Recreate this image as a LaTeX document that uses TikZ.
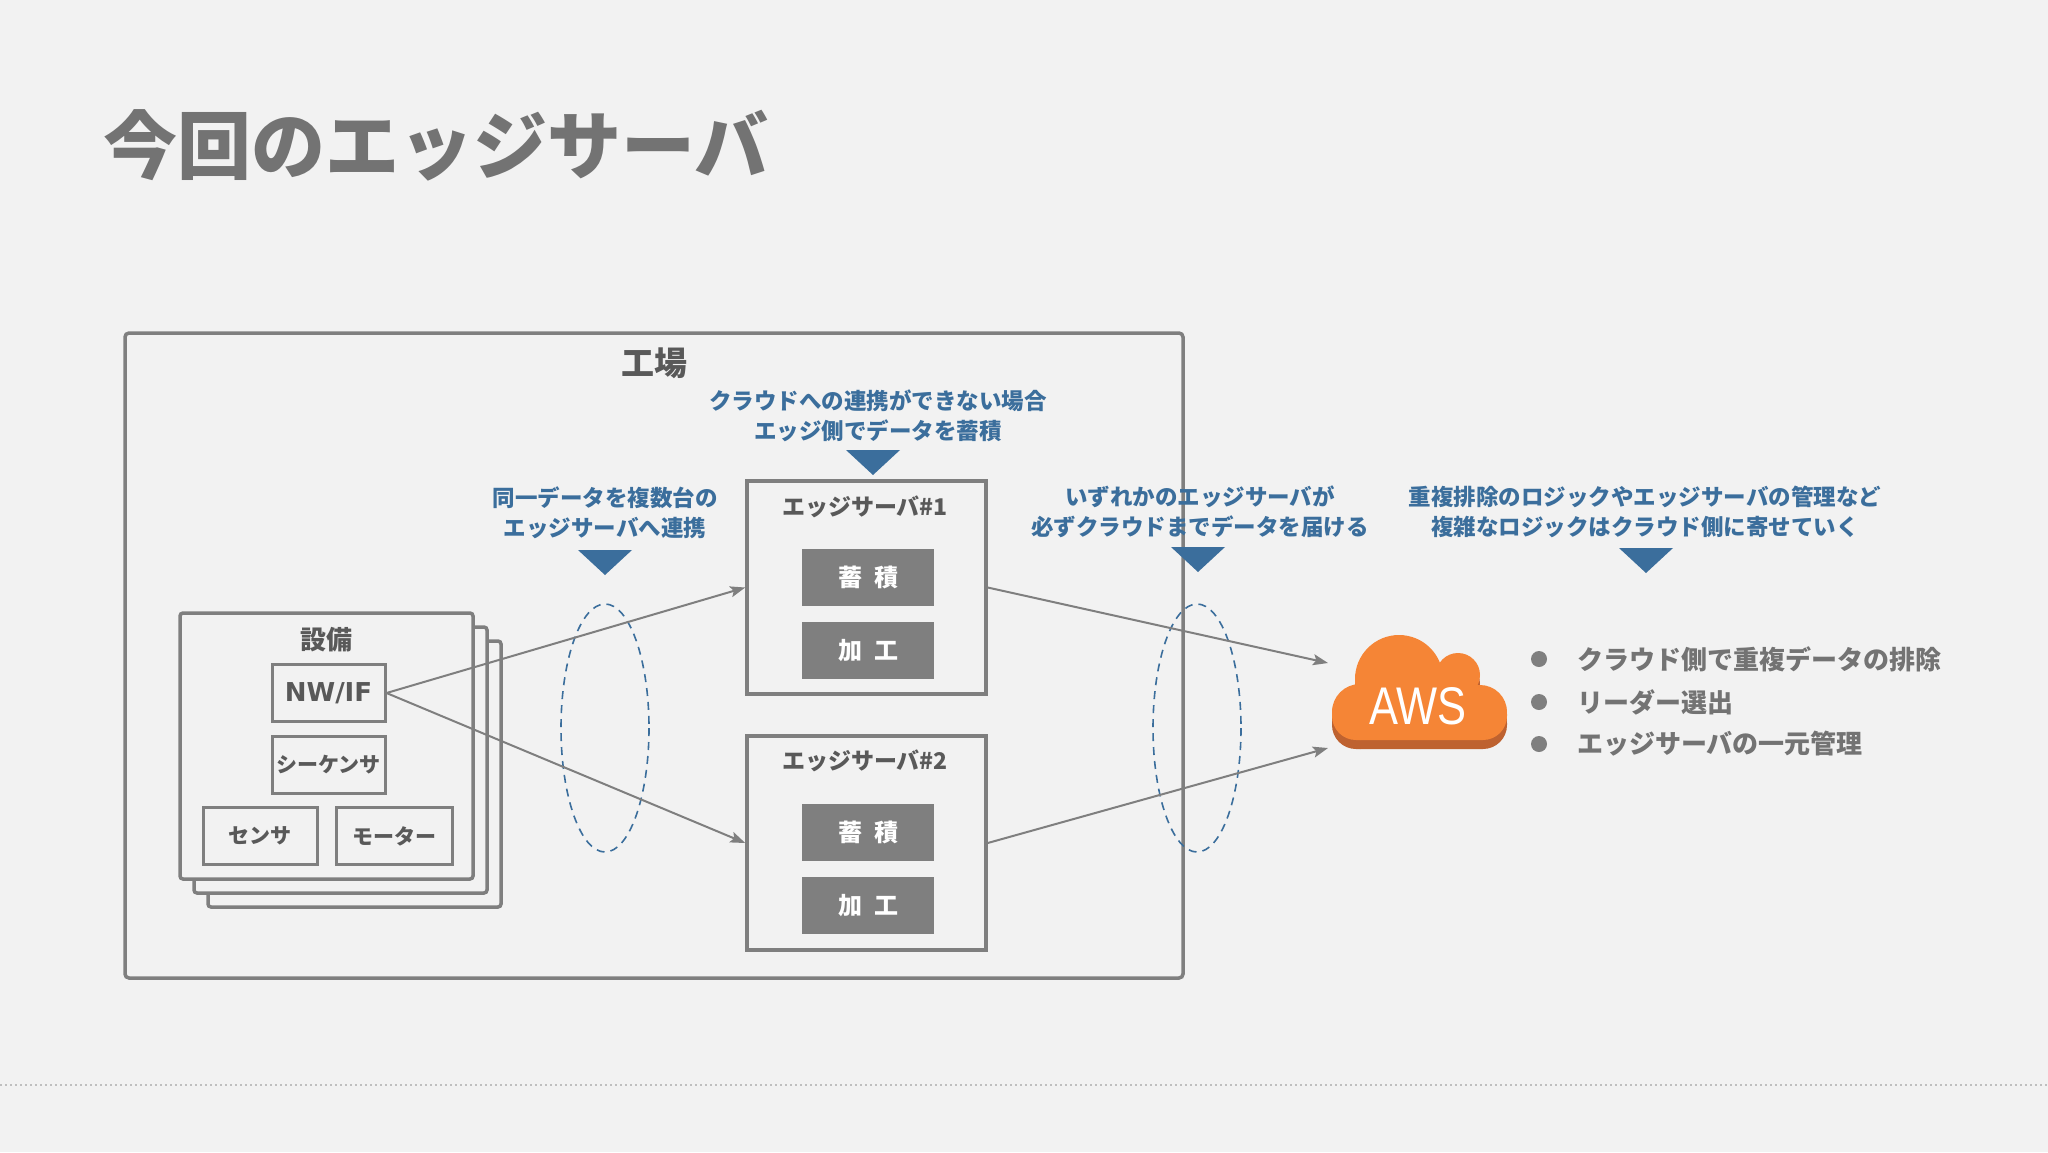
\documentclass[tikz,border=0pt]{standalone}
\usepackage{graphicx}
\usepackage{fontspec}
\setmainfont{Noto Sans CJK JP}
\newfontfamily\latinfont{DejaVu Sans}
\newfontfamily\awsfont{Liberation Sans}
\usetikzlibrary{arrows.meta}
\definecolor{bg}{HTML}{F2F2F2}
\definecolor{linegray}{HTML}{7F7F7F}
\definecolor{textgray}{HTML}{595959}
\definecolor{titlegray}{HTML}{737373}
\definecolor{dotgray}{HTML}{BFBFBF}
\definecolor{noteblue}{HTML}{3B6E9C}
\definecolor{awsorange}{HTML}{F58536}
\definecolor{awsshadow}{HTML}{BE6230}
\begin{document}
\begin{tikzpicture}[x=1pt,y=-1pt,
    frame/.style={draw=linegray,line width=3.5pt,rounded corners=4pt,inner sep=0pt},
    unit/.style={draw=linegray,line width=3.5pt,fill=bg,rounded corners=3pt,minimum width=293pt,minimum height=266pt,inner sep=0pt},
    part/.style={draw=linegray,line width=3pt,fill=bg,minimum width=113pt,minimum height=57pt,inner sep=0pt,text=textgray,font=\bfseries\fontsize{21}{21}\selectfont},
    server/.style={draw=linegray,line width=3.5pt,minimum width=239pt,minimum height=213pt,inner sep=0pt},
    job/.style={fill=linegray,minimum width=132pt,minimum height=57pt,inner sep=0pt,text=white,font=\bfseries\fontsize{24}{24}\selectfont},
    label/.style={text=textgray,inner sep=0pt,font=\bfseries\fontsize{23}{23}\selectfont},
    note/.style={text=noteblue,align=center,inner sep=0pt,font=\bfseries\fontsize{22.5}{30}\selectfont},
    group/.style={draw=noteblue,line width=1.6pt,dash pattern=on 8pt off 6pt},
    flow/.style={draw=linegray,line width=2pt,-{Stealth[length=15pt,width=11pt,inset=3pt]}}]
  \fill[bg] (0,0) rectangle (2048,1152);
  \useasboundingbox (0,0) rectangle (2048,1152);
  \node[anchor=west,inner sep=0pt,text=titlegray,font=\bfseries\fontsize{74}{74}\selectfont] (title) at (103,145) {今回のエッジサーバ};
  \draw[dotgray,line width=1.5pt,dash pattern=on 2pt off 3pt] (0,1085) -- (2048,1085);
  \node[frame,minimum width=1058pt,minimum height=645pt] (factory) at (654,655.5) {};
  \node[label,font=\bfseries\fontsize{33}{33}\selectfont] (factorylabel) at (654,363) {工場};
  \node[unit] (unit3) at (354.5,774) {};
  \node[unit] (unit2) at (340.5,760) {};
  \node[unit] (unit1) at (326.5,746) {};
  \node[label,font=\bfseries\fontsize{26}{26}\selectfont] (unitlabel) at (326,640) {設備};
  \node[part,font=\latinfont\bfseries\fontsize{26}{26}\selectfont] (nwif) at (328.5,693) {NW/IF};
  \node[part] (seq) at (328.5,765) {シーケンサ};
  \node[part,minimum width=114pt] (sensor) at (260,836) {センサ};
  \node[part,minimum width=116pt] (motor) at (394,836) {モーター};
  \node[server] (server1) at (866.5,587.5) {};
  \node[label] (server1label) at (865,507) {エッジサーバ\#1};
  \node[job] (store1) at (868,577) {蓄\hspace{0.5em}積};
  \node[job] (proc1) at (868,650.5) {加\hspace{0.5em}工};
  \node[server,minimum height=214pt] (server2) at (866.5,843) {};
  \node[label] (server2label) at (865,761) {エッジサーバ\#2};
  \node[job] (store2) at (868,832) {蓄\hspace{0.5em}積};
  \node[job] (proc2) at (868,905.5) {加\hspace{0.5em}工};
  \node[note] (note1) at (605,513) {同一データを複数台の\\エッジサーバへ連携};
  \node[note] (note2) at (878,416) {クラウドへの連携ができない場合\\エッジ側でデータを蓄積};
  \node[note] (note3) at (1200,512) {いずれかのエッジサーバが\\必ずクラウドまでデータを届ける};
  \node[note] (note4) at (1645,512) {重複排除のロジックやエッジサーバの管理など\\複雑なロジックはクラウド側に寄せていく};
  \foreach \x/\y in {605/550, 873/450, 1198/547, 1646/548}
    \fill[noteblue] (\x-27,\y) -- (\x+27,\y) -- (\x,\y+25) -- cycle;
  \draw[group] (605,728) ellipse [x radius=44, y radius=124];
  \draw[group] (1197,728) ellipse [x radius=44, y radius=124];
  \foreach \c/\dy in {awsshadow/9, awsorange/0} {
    \begin{scope}[shift={(0,\dy)}]
      \fill[\c] (1399,679) circle[radius=44] (1458,675) circle[radius=22]
        (1480,712) circle[radius=27] (1360,712) circle[radius=28];
      \fill[\c,rounded corners=24pt] (1332,690) rectangle (1507,740);
    \end{scope}
  }
  \node[text=white,inner sep=0pt,font=\awsfont\fontsize{53}{53}\selectfont] (aws) at (1418,706) {\scalebox{0.82}[1]{AWS}};
  \coordinate (awsin1) at (1328,663);
  \coordinate (awsin2) at (1328,748);
  \draw[flow] (nwif.east) -- (server1.west);
  \draw[flow] (nwif.east) -- (server2.west);
  \draw[flow] (server1.east) -- (awsin1);
  \draw[flow] (server2.east) -- (awsin2);
  \foreach \y/\t [count=\i] in {659/クラウド側で重複データの排除, 702/リーダー選出, 744/エッジサーバの一元管理} {
    \fill[linegray] (1539,\y) circle[radius=8];
    \node[anchor=west,inner sep=0pt,text=titlegray,font=\bfseries\fontsize{26}{26}\selectfont] (item\i) at (1577,\y) {\t};
  }
\end{tikzpicture}
\end{document}
